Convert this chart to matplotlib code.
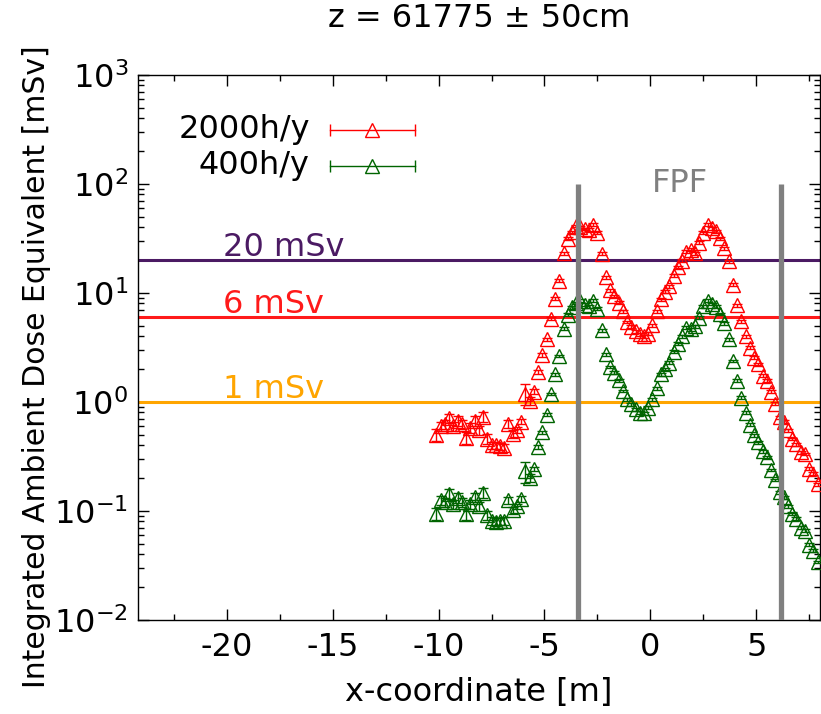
import numpy as np
import matplotlib
matplotlib.use("Agg")
import matplotlib.pyplot as plt
from matplotlib.ticker import MultipleLocator, LogLocator, NullFormatter


# Data

x_pos = [-10.1, -9.9, -9.7, -9.5, -9.3, -9.1, -8.9, -8.7, -8.5, -8.3,
         -8.1, -7.9, -7.7, -7.5, -7.3, -7.1, -6.9, -6.7, -6.5, -6.3,
         -6.1, -5.9, -5.7, -5.5, -5.3, -5.1, -4.9, -4.7, -4.5, -4.3,
         -4.1, -3.9, -3.7, -3.5, -3.3, -3.1, -2.9, -2.7, -2.5, -2.3,
         -2.1, -1.9, -1.7, -1.5, -1.3, -1.1, -0.9, -0.7, -0.5, -0.3,
         -0.1, 0.1, 0.3, 0.5, 0.7, 0.9, 1.1, 1.3, 1.5, 1.7,
         1.9, 2.1, 2.3, 2.5, 2.7, 2.9, 3.1, 3.3, 3.5, 3.7,
         3.9, 4.1, 4.3, 4.5, 4.7, 4.9, 5.1, 5.3, 5.5, 5.7,
         5.9, 6.1, 6.3, 6.5, 6.7, 6.9, 7.1, 7.3, 7.5, 7.7, 7.9]

dose_2000 = [0.50, 0.60, 0.62, 0.71, 0.60, 0.67, 0.62, 0.47, 0.58, 0.67,
             0.55, 0.73, 0.46, 0.40, 0.40, 0.39, 0.38, 0.63, 0.51, 0.55,
             0.66, 1.19, 1.02, 1.24, 1.89, 2.69, 3.74, 5.81, 8.85, 12.9,
             23.1, 31.3, 35.9, 41.0, 40.0, 38.5, 38.0, 42.0, 35.5, 22.8,
             13.9, 10.5, 9.3, 8.1, 6.8, 5.4, 4.9, 4.45, 4.15, 4.0,
             4.2, 5.05, 6.8, 8.7, 10.2, 11.5, 14.4, 17.1, 19.7, 23.9,
             24.8, 23.1, 28.9, 35.7, 42.0, 39.1, 36.5, 31.7, 25.6, 19.4,
             11.9, 7.7, 5.5, 4.0, 3.13, 2.54, 2.21, 1.73, 1.56, 1.24,
             0.965, 0.72, 0.66, 0.55, 0.456, 0.41, 0.344, 0.333, 0.243, 0.219, 0.175]

dose_400 = [0.094, 0.125, 0.120, 0.144, 0.115, 0.132, 0.120, 0.093, 0.115, 0.134,
            0.110, 0.146, 0.091, 0.081, 0.079, 0.080, 0.081, 0.125, 0.101, 0.110,
            0.129, 0.231, 0.201, 0.243, 0.383, 0.524, 0.76, 1.18, 1.79, 2.63,
            4.67, 6.32, 7.38, 8.07, 8.49, 7.80, 7.53, 8.49, 7.17, 4.52,
            2.73, 2.09, 1.85, 1.58, 1.26, 1.06, 0.953, 0.858, 0.798, 0.782,
            0.887, 1.06, 1.33, 1.79, 1.99, 2.29, 2.88, 3.41, 4.01, 4.77,
            4.61, 4.94, 5.89, 7.53, 8.45, 7.90, 7.45, 6.40, 5.27, 3.74,
            2.37, 1.56, 1.09, 0.798, 0.616, 0.495, 0.425, 0.353, 0.311, 0.237,
            0.192, 0.148, 0.133, 0.110, 0.094, 0.085, 0.070, 0.066, 0.049, 0.043, 0.034]

# relative statistical error per point (same for both running scenarios)
rel_err = [0.12, 0.10, 0.10, 0.10, 0.10, 0.10, 0.10, 0.12, 0.10, 0.10,
           0.10, 0.10, 0.10, 0.08, 0.08, 0.08, 0.08, 0.08, 0.08, 0.06,
           0.06, 0.22, 0.08, 0.05, 0.04, 0.04, 0.03, 0.03, 0.03, 0.03,
           0.03, 0.03, 0.03, 0.03, 0.03, 0.03, 0.03, 0.03, 0.03, 0.03,
           0.03, 0.03, 0.03, 0.03, 0.03, 0.03, 0.03, 0.03, 0.03, 0.03,
           0.03, 0.03, 0.03, 0.03, 0.03, 0.03, 0.03, 0.03, 0.03, 0.03,
           0.03, 0.03, 0.03, 0.03, 0.03, 0.03, 0.03, 0.03, 0.03, 0.03,
           0.03, 0.03, 0.03, 0.03, 0.03, 0.03, 0.03, 0.03, 0.03, 0.03,
           0.03, 0.03, 0.03, 0.03, 0.03, 0.03, 0.03, 0.03, 0.03, 0.03, 0.03]

limit_values = [20, 6, 1]
limit_labels = ["20 mSv", "6 mSv", "1 mSv"]
limit_colors = ["#4b1a63", "#ff1a1a", "#ffa500"]

fpf_edges = [-3.4, 6.15]
fpf_top = 100

series = [("2000h/y", dose_2000, "#ff0000"), ("400h/y", dose_400, "#006400")]

FS = 23

# Plot

plt.rcParams['font.family'] = ['DejaVu Sans']
plt.rcParams['axes.unicode_minus'] = False
fig = plt.figure(figsize=(8.21, 7.14), dpi=100)
ax = fig.add_axes([0.168, 0.1317, 0.8305, 0.7637])

x = np.array(x_pos)
for label, vals, col in series:
    y = np.array(vals)
    err = y * np.array(rel_err)
    ax.errorbar(x, y, yerr=err, fmt='^', ms=9.5, mfc='none', mec=col, mew=1.0,
                ecolor=col, elinewidth=1.0, capsize=3.5, capthick=1.0, zorder=3)

# dose limits
for val, lab, col in zip(limit_values, limit_labels, limit_colors):
    ax.axhline(val, color=col, lw=2.2, zorder=2)
    ax.annotate(lab, (-20.2, val), xytext=(0, 3), textcoords='offset points',
                color=col, fontsize=FS, ha='left', va='baseline')

# FPF borders
ax.vlines(fpf_edges, 1e-2, fpf_top, color='#808080', lw=3.8, zorder=4)
ax.text(np.mean(fpf_edges), fpf_top, "FPF", color='#808080', fontsize=FS,
        ha='center', va='center')

# hand-made gnuplot-style key (text first, then the sample)
key_rows = [0.899, 0.833]
for (label, vals, col), ky in zip(series, key_rows):
    ax.text(0.252, ky, label, transform=ax.transAxes, fontsize=FS, ha='right', va='center')
    ax.plot([0.282, 0.406], [ky, ky], transform=ax.transAxes, color=col, lw=1.0,
            marker='|', ms=9, mew=1.0, clip_on=False)
    ax.plot([0.344], [ky], transform=ax.transAxes, marker='^', ms=9.5, mfc='none',
            mec=col, mew=1.0, ls='none', clip_on=False)

ax.set_yscale('log')
ax.set_xlim(-24.2, 8.0)
ax.set_ylim(1e-2, 1e3)

ax.xaxis.set_major_locator(MultipleLocator(5))
ax.xaxis.set_minor_locator(MultipleLocator(2.5))
ax.yaxis.set_major_locator(LogLocator(base=10, numticks=10))
ax.yaxis.set_minor_locator(LogLocator(base=10, subs=np.arange(2, 10), numticks=20))
ax.yaxis.set_minor_formatter(NullFormatter())

ax.tick_params(which='both', direction='in', top=True, right=True, labelsize=FS)
ax.tick_params(which='major', length=8, width=1)
ax.tick_params(which='minor', length=4, width=1)
ax.tick_params(axis='x', pad=9)
ax.tick_params(axis='y', pad=7)

for sp in ax.spines.values():
    sp.set_linewidth(1.0)

ax.set_xlabel("x-coordinate [m]", fontsize=FS, labelpad=10)
ax.set_ylabel("Integrated Ambient Dose Equivalent [mSv]", fontsize=21.5)
ax.yaxis.set_label_coords(-0.128, 0.465)
ax.set_title("z = 61775 \u00b1 50cm", fontsize=FS, pad=34)

plt.savefig("out.png", dpi=100)
plt.close()
